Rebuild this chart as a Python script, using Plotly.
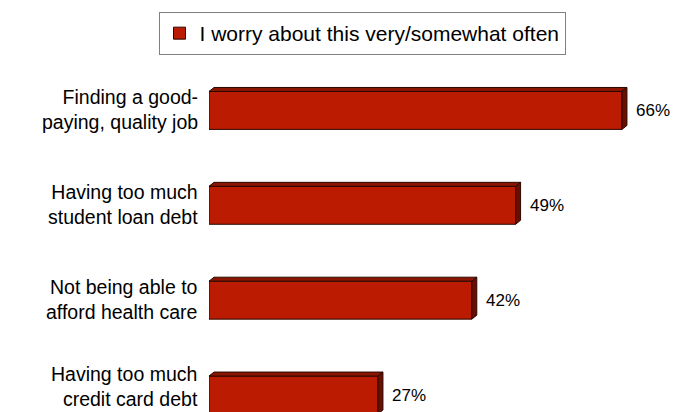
import plotly.graph_objects as go

categories = ["Finding a good-<br>paying, quality job",
              "Having too much<br>student loan debt",
              "Not being able to<br>afford health care",
              "Having too much<br>credit card debt"]
values = [66, 49, 42, 27]
value_labels = ["66%", "49%", "42%", "27%"]
series_name = "I worry about this very/somewhat often"

FRONT = "#BB1B00"
TOP = "#8A1500"
SIDE = "#6A0E00"
EDGE = "#2a0800"
FONT = "Liberation Sans, Arial, sans-serif"

positions = list(range(len(categories)))
bar_w = 0.40
dx = 0.8     # depth in x data units
dy = 0.042   # depth in category units

fig = go.Figure()
fig.add_trace(go.Bar(
    x=values, y=positions, orientation="h", width=bar_w,
    marker=dict(color=FRONT, line=dict(color=EDGE, width=1)),
    name=series_name, showlegend=True,
))

shapes = []
annotations = []
for p, v, lab, cat in zip(positions, values, value_labels, categories):
    top = p - bar_w / 2
    bot = p + bar_w / 2
    shapes.append(dict(type="path", xref="x", yref="y",
                       path=f"M0,{top} L{dx},{top-dy} L{v+dx},{top-dy} L{v},{top} Z",
                       fillcolor=TOP, line=dict(color=EDGE, width=1), layer="above"))
    shapes.append(dict(type="path", xref="x", yref="y",
                       path=f"M{v},{top} L{v+dx},{top-dy} L{v+dx},{bot-dy} L{v},{bot} Z",
                       fillcolor=SIDE, line=dict(color=EDGE, width=1), layer="above"))
    annotations.append(dict(x=v, y=p, xref="x", yref="y", text=lab, showarrow=False,
                            xanchor="left", yanchor="middle", xshift=12,
                            font=dict(size=17, color="black", family=FONT)))
    annotations.append(dict(x=0, y=p, xref="paper", yref="y", text=cat, showarrow=False,
                            xanchor="right", yanchor="middle", xshift=-9,
                            yshift=9 if p == positions[-1] else 1,
                            align="right",
                            font=dict(size=19.5, color="black", family=FONT)))

fig.update_layout(
    width=673, height=412,
    margin=dict(l=209, r=1, t=63, b=0, pad=0, autoexpand=False),
    paper_bgcolor="white", plot_bgcolor="white",
    font=dict(family=FONT, color="black"),
    shapes=shapes, annotations=annotations,
    showlegend=True,
    legend=dict(x=(362 - 209) / 463, y=1 + (63 - 12) / 349,
                xanchor="center", yanchor="top", bordercolor="#808080", borderwidth=1,
                bgcolor="white", font=dict(size=21, color="black")),
    xaxis=dict(range=[0, 74], visible=False, showgrid=False, zeroline=False,
               automargin=False),
    yaxis=dict(range=[3.179, -0.5], visible=False, showgrid=False, zeroline=False,
               automargin=False),
    bargap=0.6,
)

fig.write_html("out.html")
